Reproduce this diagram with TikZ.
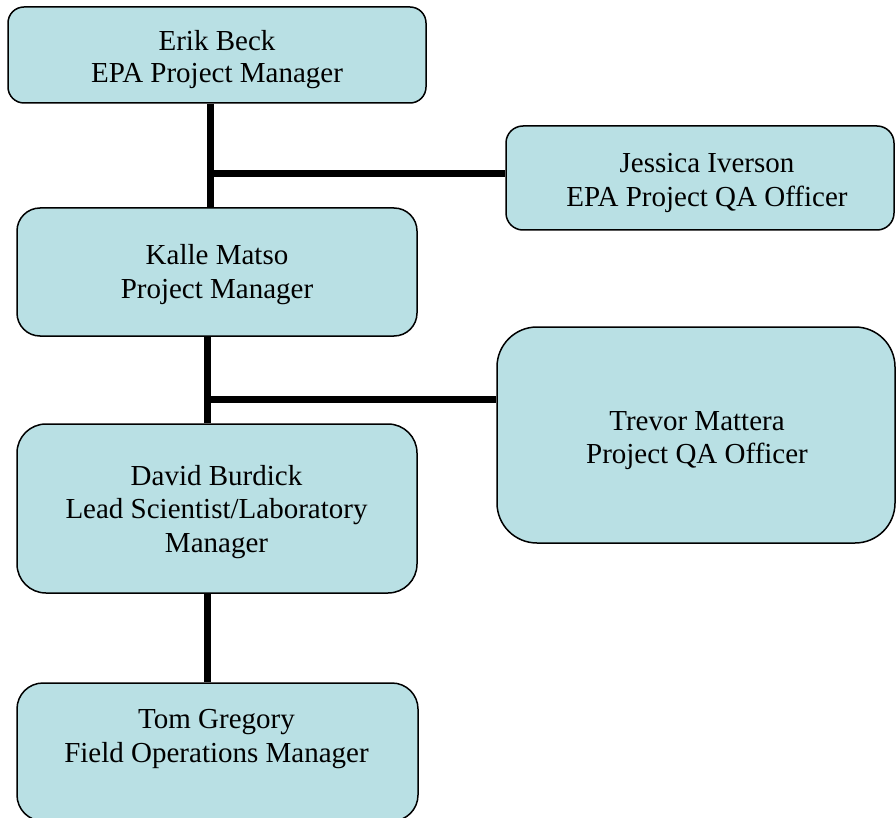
\documentclass[tikz,border=0pt]{standalone}
\usepackage{fontspec}
\setmainfont{Liberation Serif}
\definecolor{boxfill}{RGB}{185,224,228}
\begin{document}
\begin{tikzpicture}[x=1pt,y=-1pt,
  box/.style={draw=black, line width=1.5pt, fill=boxfill, rectangle, inner sep=0pt},
  conn/.style={line width=7pt, black},
  txt/.style={font=\fontsize{29}{33}\selectfont, anchor=base, inner sep=0pt}]
\useasboundingbox (0,0) rectangle (896,818);
\clip (0,0) rectangle (896,818);
% boxes
\node[box, minimum width=418pt, minimum height=96pt, rounded corners=16pt] (erik) at (217,55) {};
\node[box, minimum width=388pt, minimum height=104pt, rounded corners=17pt] (jess) at (700,178) {};
\node[box, minimum width=400pt, minimum height=128pt, rounded corners=23pt] (kalle) at (217,272) {};
\node[box, minimum width=398pt, minimum height=216pt, rounded corners=40pt] (trev) at (696,435) {};
\node[box, minimum width=400pt, minimum height=169pt, rounded corners=29pt] (david) at (217,508.5) {};
\node[box, minimum width=401pt, minimum height=138pt, rounded corners=26pt] (tom) at (217.5,752) {};
% connectors
\coordinate (j1) at (210,174);
\coordinate (j2) at (207,399);
\draw[conn] (erik.south -| j1) -- (kalle.north -| j1);
\draw[conn] (j1) -- (jess.west |- j1);
\draw[conn] (kalle.south -| j2) -- (david.north -| j2);
\draw[conn] (j2) -- (trev.west |- j2);
\draw[conn] (david.south -| j2) -- (tom.north -| j2);
% texts
\node[txt] (erik1) at (217,51) {Erik Beck};
\node[txt] (erik2) at (217,83) {EPA Project Manager};
\node[txt] (jess1) at (707,173) {Jessica Iverson};
\node[txt] (jess2) at (707,207) {EPA Project QA Officer};
\node[txt] (kalle1) at (217,265) {Kalle Matso};
\node[txt] (kalle2) at (217,298) {Project Manager};
\node[txt] (trev1) at (697,430) {Trevor Mattera};
\node[txt] (trev2) at (697,463) {Project QA Officer};
\node[txt] (david1) at (216.5,485) {David Burdick};
\node[txt] (david2) at (216.5,518) {Lead Scientist/Laboratory};
\node[txt] (david3) at (216.5,552) {Manager};
\node[txt] (tom1) at (216.5,728) {Tom Gregory};
\node[txt] (tom2) at (216.5,762) {Field Operations Manager};
\end{tikzpicture}
\end{document}
